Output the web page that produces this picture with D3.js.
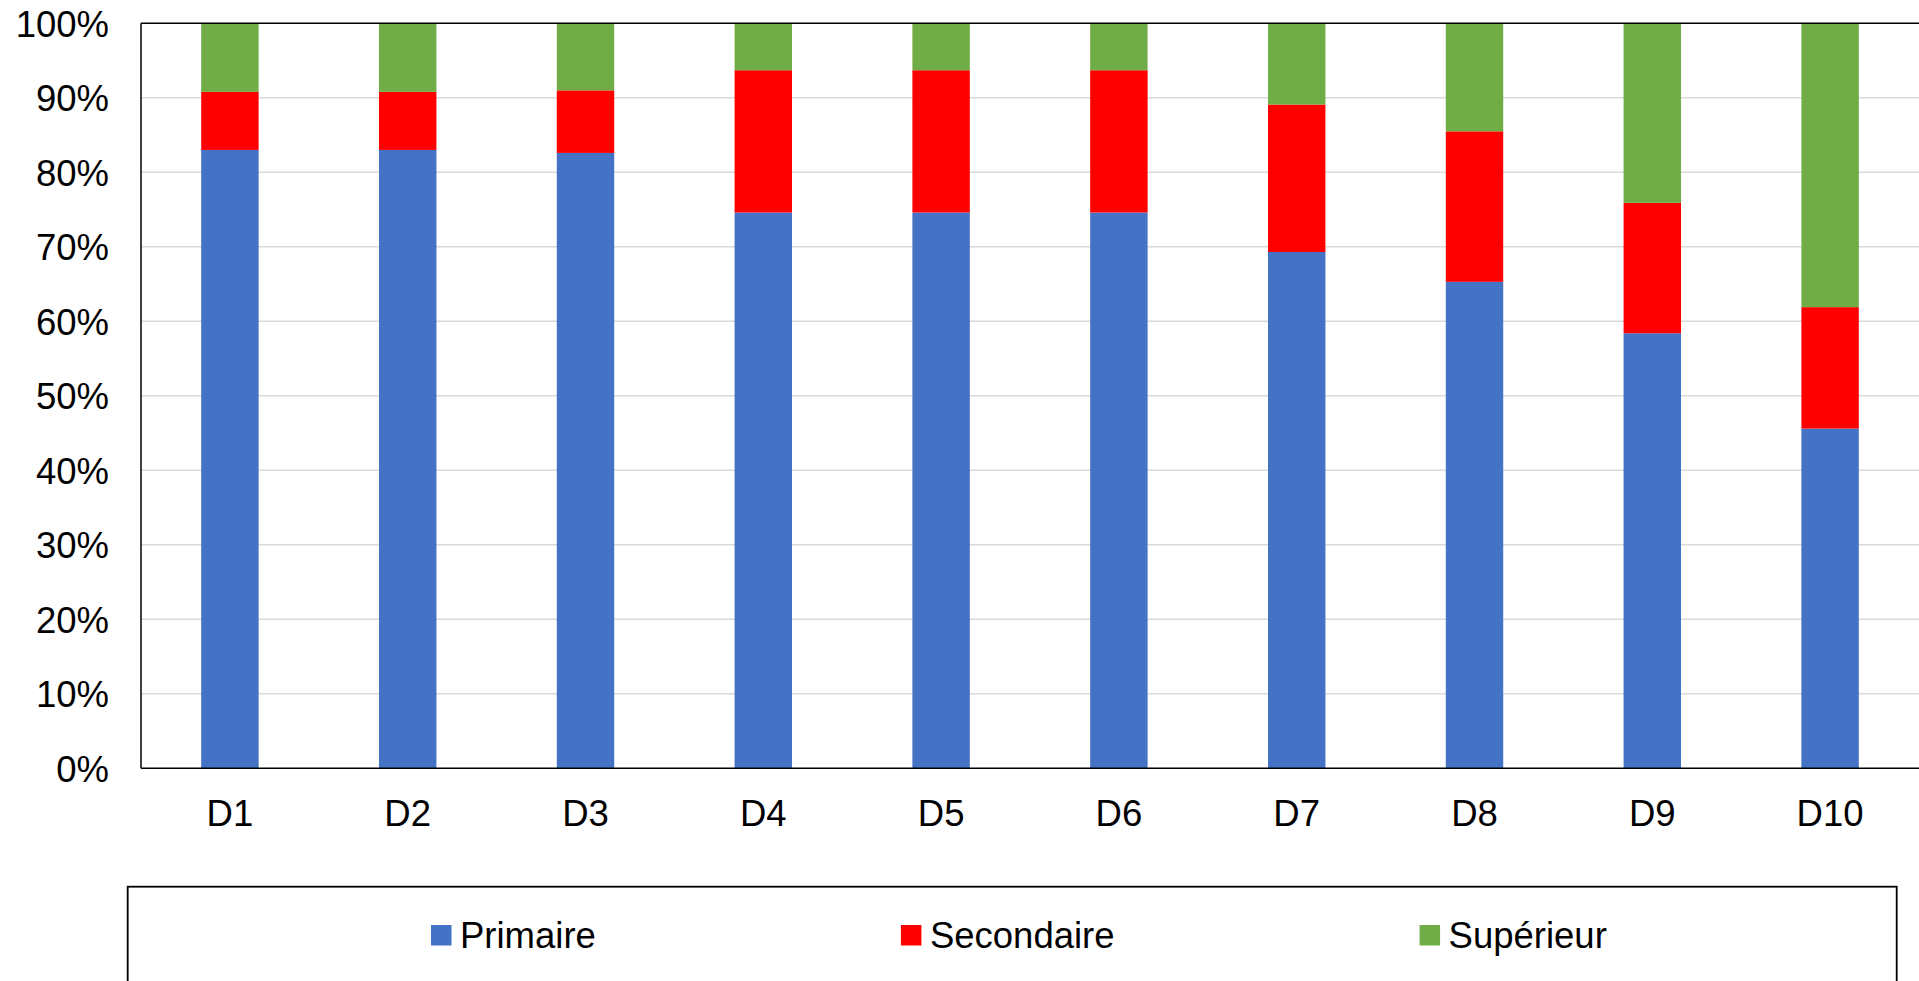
<!DOCTYPE html>
<html>
<head>
<meta charset="utf-8">
<script src="https://cdn.jsdelivr.net/npm/d3@7"></script>
<style>
  html, body { margin: 0; padding: 0; background: #fff; overflow: hidden; }
  svg { display: block; font-family: "Liberation Sans", Arial, sans-serif; }
</style>
</head>
<body>
<svg id="chart" width="1919" height="981"></svg>
<script>
const categories = ["D1","D2","D3","D4","D5","D6","D7","D8","D9","D10"];
const seriesNames = ["Primaire","Secondaire","Supérieur"];
const primaire   = [83.0, 83.0, 82.6, 74.6, 74.6, 74.6, 69.3, 65.3, 58.4, 45.6];
const secondaire = [7.8, 7.8, 8.4, 19.1, 19.1, 19.1, 19.8, 20.2, 17.5, 16.3];
const superieur  = [9.2, 9.2, 9.0, 6.3, 6.3, 6.3, 10.9, 14.5, 24.1, 38.1];
const yTicks = [0,10,20,30,40,50,60,70,80,90,100];
const colors = ["#4472C4", "#FF0000", "#70AD47"];

const svg = d3.select("#chart");
const plotLeft = 141, plotRight = 1919, plotTop = 23.3, plotBottom = 768.3;

const table = categories.map((c, i) => ({
  cat: c, "Primaire": primaire[i], "Secondaire": secondaire[i], "Supérieur": superieur[i]
}));
const stacked = d3.stack().keys(seriesNames)(table);

const x = d3.scaleBand().domain(categories).range([plotLeft, plotRight])
  .paddingInner(0.677).paddingOuter(0.3385);
const y = d3.scaleLinear().domain([0, 100]).range([plotBottom, plotTop]);

// gridlines
svg.append("g")
  .selectAll("line").data(yTicks.filter(t => t > 0 && t < 100)).join("line")
  .attr("x1", plotLeft).attr("x2", 1925)
  .attr("y1", d => y(d)).attr("y2", d => y(d))
  .attr("stroke", "#d9d9d9").attr("stroke-width", 1.5);

// bars
svg.append("g").selectAll("g").data(stacked).join("g")
  .attr("fill", (d, i) => colors[i])
  .selectAll("rect").data(d => d).join("rect")
  .attr("x", d => x(d.data.cat))
  .attr("width", x.bandwidth())
  .attr("y", d => y(d[1]))
  .attr("height", d => y(d[0]) - y(d[1]));

// plot frame: top, left, bottom
svg.append("line").attr("x1", plotLeft).attr("x2", 1925).attr("y1", plotTop).attr("y2", plotTop)
  .attr("stroke", "#000").attr("stroke-width", 1.5);
svg.append("line").attr("x1", plotLeft).attr("x2", plotLeft).attr("y1", plotTop).attr("y2", plotBottom)
  .attr("stroke", "#000").attr("stroke-width", 1.5);
svg.append("line").attr("x1", plotLeft).attr("x2", 1925).attr("y1", plotBottom).attr("y2", plotBottom)
  .attr("stroke", "#000").attr("stroke-width", 1.5);

// y axis labels
const yAxis = d3.axisLeft(y).tickValues(yTicks).tickFormat(d => d + "%").tickSize(0).tickPadding(32);
const ya = svg.append("g").attr("transform", `translate(${plotLeft},0)`).call(yAxis);
ya.select(".domain").remove();
ya.selectAll("text").attr("font-size", 36.5).attr("fill", "#000")
  .attr("font-family", "Liberation Sans, Arial, sans-serif").attr("dy", "0.35em");

// x axis labels
const xAxis = d3.axisBottom(x).tickSize(0).tickPadding(32);
const xa = svg.append("g").attr("transform", `translate(0,${plotBottom})`).call(xAxis);
xa.select(".domain").remove();
xa.selectAll("text").attr("font-size", 36.5).attr("fill", "#000")
  .attr("font-family", "Liberation Sans, Arial, sans-serif");

// legend box
svg.append("rect").attr("x", 127.7).attr("y", 886.7).attr("width", 1769).attr("height", 200)
  .attr("fill", "none").attr("stroke", "#000").attr("stroke-width", 1.8);

let lx = 431;
seriesNames.forEach((name, i) => {
  const g = svg.append("g");
  g.append("rect").attr("x", lx).attr("y", 925).attr("width", 20.5).attr("height", 20.5)
    .attr("fill", colors[i]);
  const t = g.append("text").attr("x", lx + 29).attr("y", 947.7)
    .attr("font-size", 36.5).attr("fill", "#000").text(name);
  lx += 29 + t.node().getComputedTextLength() + 305;
});
</script>
</body>
</html>
